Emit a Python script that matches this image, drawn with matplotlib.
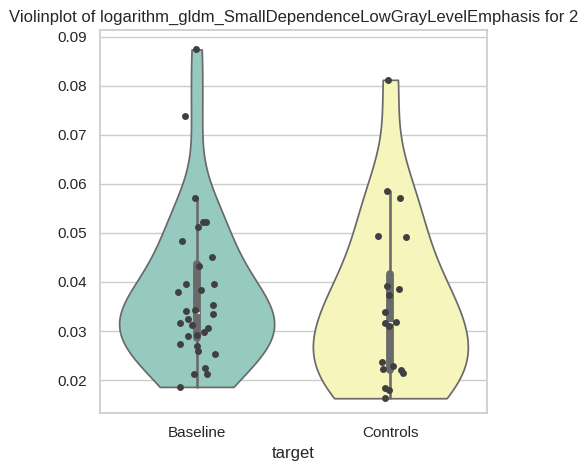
import matplotlib
matplotlib.use("Agg")
import matplotlib.pyplot as plt
import numpy as np
import pandas as pd
import seaborn as sns

# values
groups = ["Baseline", "Controls"]
baseline = [0.0186, 0.0212, 0.0212, 0.0224, 0.0254, 0.0259, 0.0269, 0.0273,
            0.0290, 0.0291, 0.0297, 0.0306, 0.0312, 0.0316, 0.0324, 0.0334,
            0.0341, 0.0342, 0.0354, 0.0380, 0.0383, 0.0396, 0.0396, 0.0433,
            0.0450, 0.0483, 0.0512, 0.0522, 0.0522, 0.0571, 0.0738, 0.0874]
controls = [0.0163, 0.0180, 0.0184, 0.0214, 0.0220, 0.0222, 0.0229, 0.0236,
            0.0310, 0.0316, 0.0318, 0.0339, 0.0373, 0.0386, 0.0391, 0.0492,
            0.0494, 0.0571, 0.0586, 0.0812]
feature = "logarithm_gldm_SmallDependenceLowGrayLevelEmphasis"

df = pd.DataFrame({
    "target": ["Baseline"] * len(baseline) + ["Controls"] * len(controls),
    feature: baseline + controls,
})

sns.set_theme(style="whitegrid")
plt.rcParams['font.family'] = ['Liberation Sans', 'DejaVu Sans']

fig, ax = plt.subplots(figsize=(5.87, 4.73), dpi=100)
fig.subplots_adjust(left=0.170, right=0.830, top=0.937, bottom=0.127)

sns.violinplot(data=df, x="target", y=feature, hue="target", order=groups,
               palette="Set3", cut=0, density_norm="width", legend=False, ax=ax)
np.random.seed(7)
sns.stripplot(data=df, x="target", y=feature, order=groups, color=".25",
              jitter=0.1, size=5, ax=ax)

ax.set_ylim(0.0133, 0.0914)
ax.set_ylabel("")
ax.set_xlabel("target", fontsize=12)
ax.set_title("Violinplot of " + feature + " for 2", fontsize=12)

plt.savefig("out.png", dpi=100)
